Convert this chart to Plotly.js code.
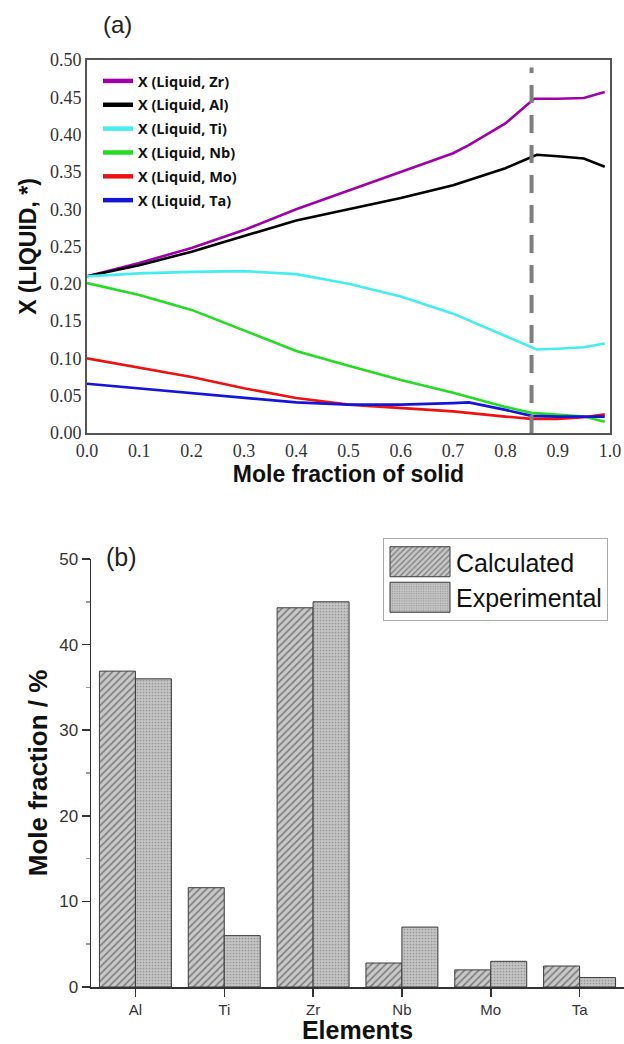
<!DOCTYPE html>
<html>
<head>
<meta charset="utf-8">
<script src="https://cdn.plot.ly/plotly-3.0.1.min.js"></script>
<style>html,body{margin:0;padding:0;background:#fff;}#chart{width:624px;height:1044px;}</style>
</head>
<body>
<div id="chart"></div>
<script>
// ---------- Panel (a): liquid composition vs. mole fraction of solid ----------
const zrX = [0, 0.1, 0.2, 0.3, 0.4, 0.5, 0.6, 0.7, 0.73, 0.8, 0.85, 0.855, 0.9, 0.95, 0.99];
const zrY = [0.210, 0.228, 0.248, 0.272, 0.300, 0.325, 0.350, 0.375, 0.386, 0.415, 0.445, 0.448, 0.448, 0.449, 0.457];

const alX = [0, 0.1, 0.2, 0.3, 0.4, 0.5, 0.6, 0.7, 0.8, 0.85, 0.86, 0.9, 0.95, 0.99];
const alY = [0.210, 0.225, 0.243, 0.264, 0.285, 0.300, 0.315, 0.332, 0.355, 0.370, 0.373, 0.371, 0.368, 0.357];

const tiX = [0, 0.1, 0.2, 0.3, 0.4, 0.5, 0.6, 0.7, 0.8, 0.85, 0.86, 0.9, 0.95, 0.99];
const tiY = [0.210, 0.214, 0.216, 0.217, 0.213, 0.200, 0.183, 0.160, 0.130, 0.115, 0.112, 0.113, 0.115, 0.120];

const nbX = [0, 0.1, 0.2, 0.3, 0.4, 0.5, 0.6, 0.7, 0.8, 0.85, 0.9, 0.95, 0.99];
const nbY = [0.201, 0.185, 0.165, 0.138, 0.110, 0.090, 0.071, 0.054, 0.035, 0.027, 0.025, 0.022, 0.015];

const moX = [0, 0.1, 0.2, 0.3, 0.4, 0.5, 0.6, 0.7, 0.8, 0.85, 0.9, 0.95, 0.99];
const moY = [0.100, 0.088, 0.075, 0.060, 0.047, 0.038, 0.034, 0.029, 0.022, 0.019, 0.019, 0.021, 0.025];

const taX = [0, 0.1, 0.2, 0.3, 0.4, 0.5, 0.6, 0.7, 0.73, 0.8, 0.85, 0.9, 0.95, 0.99];
const taY = [0.066, 0.060, 0.054, 0.047, 0.041, 0.038, 0.038, 0.040, 0.041, 0.031, 0.023, 0.022, 0.022, 0.022];

const seriesNames = ['X (Liquid, Zr)', 'X (Liquid, Al)', 'X (Liquid, Ti)', 'X (Liquid, Nb)', 'X (Liquid, Mo)', 'X (Liquid, Ta)'];

// dashed vertical marker (solidus point)
const dashedLineX = [0.85, 0.85];
const dashedLineY = [0, 0.49];

// ---------- Panel (b): calculated vs experimental ----------
const elements = ['Al', 'Ti', 'Zr', 'Nb', 'Mo', 'Ta'];
const calculated = [36.9, 11.6, 44.3, 2.8, 2.0, 2.45];
const experimental = [36.0, 6.0, 45.0, 7.0, 3.0, 1.1];

const colors = ['#a000a8', '#000000', '#44eeee', '#22dd22', '#ee1111', '#1515d8'];
const xs = [zrX, alX, tiX, nbX, moX, taX];
const ys = [zrY, alY, tiY, nbY, moY, taY];

const traces = [];
for (let i = 0; i < seriesNames.length; i++) {
  traces.push({
    type: 'scatter', mode: 'lines', x: xs[i], y: ys[i], name: seriesNames[i],
    line: {color: colors[i], width: 2.6}, xaxis: 'x', yaxis: 'y',
    legend: 'legend', legendgroup: 'g' + i
  });
}
traces.push({
  type: 'scatter', mode: 'lines', x: dashedLineX, y: dashedLineY, showlegend: false,
  line: {color: '#7f7f7f', width: 4, dash: '18px,12px'}, xaxis: 'x', yaxis: 'y', hoverinfo: 'skip'
});

traces.push({
  type: 'bar', x: elements, y: calculated, name: 'Calculated', xaxis: 'x2', yaxis: 'y2', legend: 'legend2',
  marker: {color: '#c4c4c4', line: {color: '#3a3a3a', width: 1},
    pattern: {shape: '/', fgcolor: '#7a7a7a', bgcolor: '#c8c8c8', size: 5, solidity: 0.3}}
});
traces.push({
  type: 'bar', x: elements, y: experimental, name: 'Experimental', xaxis: 'x2', yaxis: 'y2', legend: 'legend2',
  marker: {color: '#bcbcbc', line: {color: '#3a3a3a', width: 1},
    pattern: {shape: '.', fgcolor: '#969696', bgcolor: '#c4c4c4', size: 3, solidity: 0.25}}
});

const serif = 'Liberation Serif, Times New Roman, serif';
const sans = 'Liberation Sans, Arial, sans-serif';

const layout = {
  width: 624, height: 1044,
  margin: {l: 0, r: 0, t: 0, b: 0},
  paper_bgcolor: '#fff', plot_bgcolor: '#fff',
  showlegend: true,
  barmode: 'group', bargap: 0.19, bargroupgap: 0,
  xaxis: {
    domain: [87 / 624, 610 / 624], anchor: 'y', range: [0, 1], dtick: 0.1, tick0: 0,
    tickformat: '.1f', showgrid: false, zeroline: false, showline: true, mirror: true,
    linecolor: '#555', linewidth: 2, ticks: '',
    tickfont: {family: serif, size: 18, color: '#333'},
    title: {text: '<b>Mole fraction of solid</b>', font: {family: sans, size: 23, color: '#111'}, standoff: 4}
  },
  yaxis: {
    domain: [1 - 433 / 1044, 1 - 60 / 1044], anchor: 'x', range: [0, 0.5], dtick: 0.05, tick0: 0,
    tickformat: '.2f', showgrid: false, zeroline: false, showline: true, mirror: true,
    linecolor: '#555', linewidth: 2, ticks: '',
    tickfont: {family: serif, size: 18, color: '#333'},
    title: {text: '<b>X (LIQUID, *)</b>', font: {family: sans, size: 23, color: '#111'}, standoff: 7}
  },
  xaxis2: {
    domain: [91 / 624, 1], anchor: 'y2', type: 'category', range: [-0.5, 5.5],
    showgrid: false, zeroline: false, showline: true, linecolor: '#333', linewidth: 1.5,
    ticks: 'outside', ticklen: 8, tickcolor: '#333', tickwidth: 1.5,
    tickfont: {family: sans, size: 15, color: '#333'},
    title: {text: '<b>Elements</b>', font: {family: sans, size: 25, color: '#111'}, standoff: 3}
  },
  // boundary (minor) ticks between the element categories
  xaxis3: {
    domain: [91 / 624, 1], anchor: 'y2', overlaying: 'x2', range: [-0.5, 5.5],
    tick0: -0.5, dtick: 1, ticks: 'outside', ticklen: 5, tickcolor: '#555', tickwidth: 1.5,
    showticklabels: false, showgrid: false, zeroline: false, showline: false
  },
  yaxis2: {
    domain: [1 - 987 / 1044, 1 - 559 / 1044], anchor: 'x2', range: [0, 50], dtick: 10, tick0: 0,
    showgrid: false, zeroline: false, showline: true, linecolor: '#333', linewidth: 1.5,
    ticks: 'outside', ticklen: 8, tickcolor: '#333', tickwidth: 1.5,
    minor: {dtick: 5, ticks: 'outside', ticklen: 4, tickcolor: '#999', showgrid: false},
    tickfont: {family: sans, size: 17, color: '#333'},
    title: {text: '<b>Mole fraction / %</b>', font: {family: sans, size: 26, color: '#111'}, standoff: 4}
  },
  legend: {
    x: 98 / 624, y: 1 - 65 / 1044, xanchor: 'left', yanchor: 'top',
    bgcolor: 'rgba(0,0,0,0)', borderwidth: 0, traceorder: 'grouped', tracegroupgap: 2,
    font: {family: 'Open Sans, sans-serif', size: 14.5, color: '#111', weight: 'bold'}
  },
  legend2: {
    x: 383 / 624, y: 1 - 538 / 1044, xanchor: 'left', yanchor: 'top',
    bgcolor: '#fff', bordercolor: '#aaa', borderwidth: 1, itemwidth: 62,
    font: {family: sans, size: 25, color: '#111'}, tracegroupgap: 0
  },
  annotations: [
    {text: '(a)', xref: 'paper', yref: 'paper', x: 117 / 624, y: 1 - 25 / 1044, xanchor: 'center', yanchor: 'middle',
     showarrow: false, font: {family: sans, size: 24, color: '#222'}},
    {text: '(b)', xref: 'paper', yref: 'paper', x: 121 / 624, y: 1 - 557 / 1044, xanchor: 'center', yanchor: 'middle',
     showarrow: false, font: {family: sans, size: 25, color: '#222'}}
  ]
};

Plotly.newPlot('chart', traces, layout, {staticPlot: true}).then(function () {
  // enlarge the bar swatches in legend (b)
  document.querySelectorAll('g.legend2 .legendpoints path').forEach(function (p) {
    p.setAttribute('d', 'M-30,-15H30V15H-30Z');
  });
  // thicker line samples in legend (a)
  document.querySelectorAll('g.legend .legendlines path').forEach(function (p) {
    p.style.strokeWidth = '4.5px';
  });
});
</script>
</body>
</html>
